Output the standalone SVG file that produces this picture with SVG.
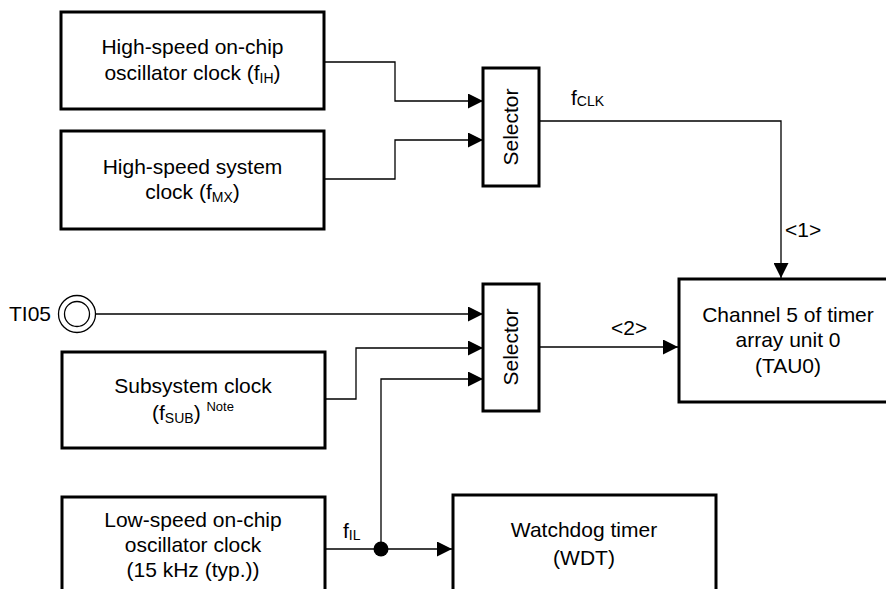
<svg xmlns="http://www.w3.org/2000/svg" width="886" height="589" viewBox="0 0 886 589">
<defs>
<style>
text{font-family:"Liberation Sans",Arial,sans-serif;font-size:21px;fill:#000}
.c{text-anchor:middle}
.s{font-size:14px}
.box{fill:#fff;stroke:#000;stroke-width:3}
.ln{fill:none;stroke:#000;stroke-width:1.3}
</style>
<marker id="ah" markerUnits="userSpaceOnUse" markerWidth="15" markerHeight="15" refX="15" refY="7.5" orient="auto">
<path d="M0,0 L15,7.5 L0,15 z" fill="#000"/>
</marker>
</defs>
<rect width="886" height="589" fill="#fff"/>
<g id="connectors">
<path class="ln" d="M324,62 H395 V101 H483" marker-end="url(#ah)"/>
<path class="ln" d="M324,179 H395 V140 H483" marker-end="url(#ah)"/>
<path class="ln" d="M539,121 H781 V278" marker-end="url(#ah)"/>
<path class="ln" d="M96,314 H483" marker-end="url(#ah)"/>
<path class="ln" d="M325,399 H356 V348 H483" marker-end="url(#ah)"/>
<path class="ln" d="M381,549 V379 H483" marker-end="url(#ah)"/>
<path class="ln" d="M325,549 H452" marker-end="url(#ah)"/>
<path class="ln" d="M539,347 H678" marker-end="url(#ah)"/>
<circle cx="381" cy="549" r="7.5" fill="#000"/>
<text x="571" y="105">f<tspan class="s" dy="1">CLK</tspan></text>
<text x="785" y="237">&lt;1&gt;</text>
<text x="611" y="335">&lt;2&gt;</text>
<text x="343" y="538">f<tspan class="s" dy="2">IL</tspan></text>
</g>
<g id="hs_osc">
<rect class="box" x="61" y="12" width="263" height="97"/>
<text class="c" x="192.5" y="54">High-speed on-chip</text>
<text class="c" x="192.5" y="80">oscillator clock (f<tspan class="s" dy="3">IH</tspan><tspan dy="-3">)</tspan></text>
</g>
<g id="hs_sys">
<rect class="box" x="61" y="131" width="263" height="98"/>
<text class="c" x="192.5" y="174">High-speed system</text>
<text class="c" x="192.5" y="199">clock (f<tspan class="s" dy="3">MX</tspan><tspan dy="-3">)</tspan></text>
</g>
<g id="selector1">
<rect class="box" x="483" y="68" width="56" height="118"/>
<text class="c" transform="translate(518,127) rotate(-90)" x="0" y="0">Selector</text>
</g>
<g id="ti05">
<text x="9" y="321">TI05</text>
<circle cx="77" cy="314" r="18.5" fill="#fff" stroke="#000" stroke-width="1.3"/>
<circle cx="77" cy="314" r="12.5" fill="#fff" stroke="#000" stroke-width="1.3"/>
</g>
<g id="subsystem">
<rect class="box" x="62" y="352" width="263" height="96"/>
<text class="c" x="193" y="393">Subsystem clock</text>
<text class="c" x="193" y="420">(f<tspan class="s" dy="3">SUB</tspan><tspan dy="-3">) </tspan><tspan font-size="13" dy="-9">Note</tspan></text>
</g>
<g id="selector2">
<rect class="box" x="483" y="284" width="56" height="127"/>
<text class="c" transform="translate(518,347) rotate(-90)" x="0" y="0">Selector</text>
</g>
<g id="tau0">
<rect class="box" x="679" y="279" width="222" height="123"/>
<text class="c" x="788" y="322">Channel 5 of timer</text>
<text class="c" x="788" y="347">array unit 0</text>
<text class="c" x="788" y="373">(TAU0)</text>
</g>
<g id="low_speed">
<rect class="box" x="62" y="497" width="263" height="110"/>
<text class="c" x="193" y="527">Low-speed on-chip</text>
<text class="c" x="193" y="552">oscillator clock</text>
<text class="c" x="193" y="577">(15 kHz (typ.))</text>
</g>
<g id="wdt">
<rect class="box" x="453" y="495" width="263" height="110"/>
<text class="c" x="584" y="537">Watchdog timer</text>
<text class="c" x="584" y="565">(WDT)</text>
</g>
</svg>
